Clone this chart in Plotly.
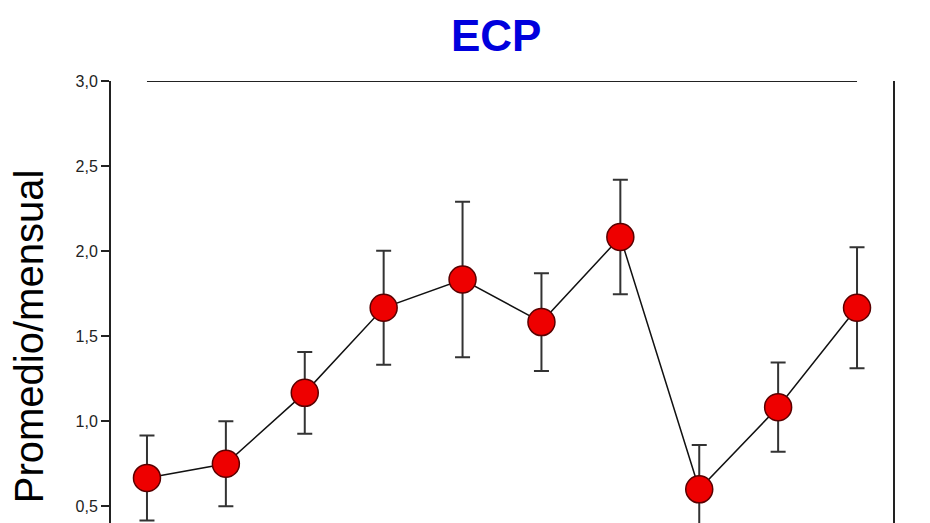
import plotly.graph_objects as go

# Data
months = [1, 2, 3, 4, 5, 6, 7, 8, 9, 10]
means = [0.667, 0.75, 1.167, 1.667, 1.833, 1.583, 2.083, 0.60, 1.083, 1.667]
errors = [0.25, 0.25, 0.24, 0.335, 0.457, 0.287, 0.337, 0.26, 0.262, 0.356]
y_ticks = [0.5, 1.0, 1.5, 2.0, 2.5, 3.0]
title_text = "ECP"
y_title = "Promedio/mensual"

y_min, y_max = 0.402, 3.0
x_min, x_max = 0.544, 10.456

fig = go.Figure()
fig.add_trace(go.Scatter(
    x=months, y=means,
    mode="lines+markers",
    line=dict(color="#111111", width=1.5),
    marker=dict(size=27, color="#ee0000", line=dict(color="#5a0000", width=1.5)),
    error_y=dict(type="data", array=errors, visible=True,
                 color="#333333", thickness=2, width=7.5),
    showlegend=False,
    cliponaxis=False,
))

# top frame line spanning first to last point
fig.add_shape(type="line", xref="x", yref="y",
              x0=months[0], x1=months[-1], y0=y_max, y1=y_max,
              line=dict(color="#222222", width=2.2))

plot_l, plot_r, plot_t = 103, 885, 73
fig.add_annotation(text=f"<b>{title_text}</b>", xref="paper", yref="paper",
                   x=(488 - plot_l) / (plot_r - plot_l), y=1, yshift=plot_t - 1,
                   showarrow=False,
                   font=dict(family="Arial, Liberation Sans", size=44, color="#0000dd"),
                   xanchor="center", yanchor="top")

fig.add_annotation(text=y_title, xref="paper", yref="y",
                   x=0, y=1.5, xshift=-82, showarrow=False, textangle=-90,
                   font=dict(family="Arial, Liberation Sans", size=40, color="#000000"),
                   xanchor="center", yanchor="middle")

fig.update_layout(
    width=930, height=523,
    margin=dict(l=plot_l, r=930 - plot_r, t=plot_t, b=8),
    paper_bgcolor="white", plot_bgcolor="white",
    separators=", ",
    font=dict(family="Arial, Liberation Sans"),
    xaxis=dict(range=[x_min, x_max], showgrid=False, zeroline=False,
               showticklabels=False, ticks="", showline=False),
    yaxis=dict(range=[y_min, y_max], showgrid=False, zeroline=False,
               tickvals=y_ticks, tickformat=".1f", ticks="outside", ticklen=8,
               tickwidth=1.5, tickcolor="#222222",
               showline=True, linecolor="#222222", linewidth=2, mirror=True,
               tickfont=dict(family="Arial, Liberation Sans", size=16, color="#222222")),
)

fig.write_html("out.html")
